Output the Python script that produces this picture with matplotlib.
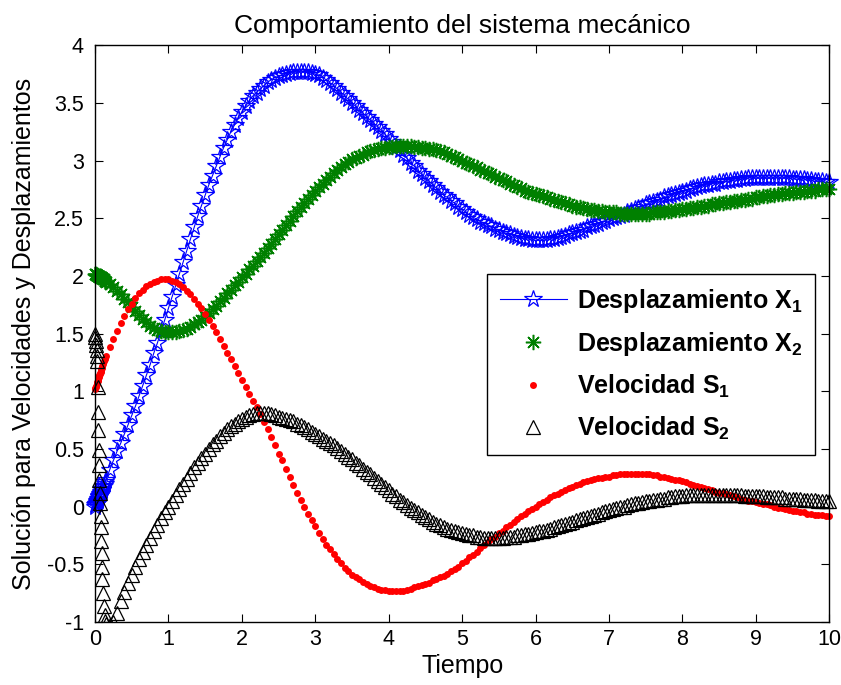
import numpy as np
import matplotlib
matplotlib.use("Agg")
import matplotlib.pyplot as plt
from matplotlib.patches import Rectangle
from matplotlib.ticker import FormatStrFormatter
from matplotlib import font_manager

plt.rcParams['font.family'] = ['Liberation Sans', 'DejaVu Sans']
plt.rcParams['mathtext.fontset'] = 'custom'
plt.rcParams['mathtext.bf'] = 'Liberation Sans:bold'
plt.rcParams['mathtext.rm'] = 'Liberation Sans'
plt.rcParams['mathtext.default'] = 'bf'
plt.rcParams['axes.unicode_minus'] = False

installed = {f.name for f in font_manager.fontManager.ttflist}
narrow = 'Liberation Sans Narrow' in installed
tick_family = ['Liberation Sans Narrow', 'Liberation Sans'] if narrow else ['Liberation Sans']
tick_size = 17 if narrow else 15.5

# ---- solution sampled on a regular grid t = 0, 0.05, ..., 10 (20 samples per unit) ----
t_grid = np.round(np.arange(0.0, 10.0001, 0.05), 2)

x1_grid = [
    0.00, 0.08, 0.15, 0.23, 0.32, 0.40, 0.48, 0.55, 0.63, 0.71, 0.79, 0.87, 0.96, 1.05, 1.14, 1.23, 1.33, 1.42, 1.52, 1.62,
    1.72, 1.82, 1.92, 2.02, 2.12, 2.22, 2.32, 2.42, 2.52, 2.61, 2.70, 2.79, 2.87, 2.95, 3.03, 3.11, 3.18, 3.25, 3.31, 3.37,
    3.42, 3.47, 3.52, 3.56, 3.59, 3.62, 3.65, 3.68, 3.70, 3.72, 3.73, 3.74, 3.75, 3.76, 3.77, 3.77, 3.77, 3.77, 3.77, 3.76,
    3.75, 3.74, 3.72, 3.70, 3.67, 3.65, 3.62, 3.59, 3.56, 3.53, 3.50, 3.47, 3.44, 3.41, 3.38, 3.35, 3.32, 3.29, 3.26, 3.23,
    3.19, 3.16, 3.12, 3.09, 3.05, 3.02, 2.98, 2.95, 2.91, 2.88, 2.85, 2.82, 2.79, 2.76, 2.73, 2.70, 2.68, 2.65, 2.63, 2.60,
    2.58, 2.55, 2.53, 2.51, 2.49, 2.47, 2.46, 2.44, 2.43, 2.41, 2.40, 2.38, 2.37, 2.36, 2.35, 2.34, 2.33, 2.32, 2.32, 2.31,
    2.31, 2.31, 2.31, 2.31, 2.32, 2.32, 2.33, 2.34, 2.35, 2.36, 2.37, 2.38, 2.39, 2.40, 2.42, 2.43, 2.44, 2.45, 2.47, 2.48,
    2.49, 2.50, 2.51, 2.52, 2.53, 2.55, 2.56, 2.58, 2.59, 2.60, 2.62, 2.63, 2.64, 2.65, 2.66, 2.68, 2.69, 2.70, 2.71, 2.72,
    2.73, 2.74, 2.75, 2.76, 2.77, 2.78, 2.79, 2.79, 2.80, 2.80, 2.81, 2.81, 2.82, 2.82, 2.83, 2.83, 2.84, 2.84, 2.85, 2.85,
    2.85, 2.85, 2.85, 2.85, 2.85, 2.85, 2.85, 2.85, 2.85, 2.85, 2.84, 2.84, 2.84, 2.84, 2.83, 2.83, 2.82, 2.82, 2.82, 2.81,
    2.81,
]

x2_grid = [
    2.02, 2.00, 1.98, 1.95, 1.93, 1.90, 1.87, 1.84, 1.80, 1.77, 1.73, 1.70, 1.66, 1.63, 1.60, 1.57, 1.55, 1.53, 1.52, 1.51,
    1.51, 1.51, 1.51, 1.52, 1.53, 1.54, 1.56, 1.58, 1.60, 1.62, 1.65, 1.68, 1.71, 1.74, 1.78, 1.81, 1.85, 1.88, 1.92, 1.95,
    1.99, 2.02, 2.06, 2.09, 2.13, 2.16, 2.20, 2.24, 2.28, 2.32, 2.36, 2.40, 2.44, 2.48, 2.52, 2.56, 2.60, 2.63, 2.67, 2.70,
    2.74, 2.77, 2.80, 2.83, 2.86, 2.89, 2.92, 2.94, 2.97, 2.99, 3.01, 3.02, 3.04, 3.05, 3.07, 3.08, 3.09, 3.10, 3.11, 3.11,
    3.12, 3.12, 3.13, 3.13, 3.13, 3.13, 3.13, 3.12, 3.12, 3.11, 3.11, 3.10, 3.10, 3.09, 3.08, 3.07, 3.06, 3.04, 3.03, 3.01,
    3.00, 2.98, 2.97, 2.95, 2.94, 2.92, 2.91, 2.89, 2.88, 2.86, 2.85, 2.83, 2.82, 2.80, 2.79, 2.77, 2.76, 2.74, 2.73, 2.72,
    2.71, 2.70, 2.69, 2.68, 2.67, 2.66, 2.65, 2.64, 2.63, 2.62, 2.61, 2.60, 2.60, 2.59, 2.58, 2.57, 2.57, 2.56, 2.56, 2.55,
    2.55, 2.55, 2.55, 2.54, 2.54, 2.54, 2.54, 2.54, 2.54, 2.54, 2.54, 2.54, 2.55, 2.55, 2.55, 2.55, 2.56, 2.56, 2.57, 2.57,
    2.58, 2.58, 2.59, 2.59, 2.60, 2.60, 2.61, 2.61, 2.62, 2.62, 2.63, 2.63, 2.64, 2.64, 2.65, 2.65, 2.66, 2.66, 2.67, 2.67,
    2.68, 2.68, 2.69, 2.69, 2.70, 2.70, 2.71, 2.71, 2.72, 2.72, 2.72, 2.73, 2.73, 2.73, 2.74, 2.74, 2.74, 2.75, 2.75, 2.75,
    2.75,
]

s1_grid = [
    1.02, 1.12, 1.22, 1.31, 1.38, 1.45, 1.52, 1.59, 1.65, 1.71, 1.76, 1.81, 1.85, 1.88, 1.91, 1.93, 1.95, 1.96, 1.97, 1.97,
    1.97, 1.96, 1.95, 1.93, 1.90, 1.87, 1.84, 1.80, 1.76, 1.72, 1.67, 1.62, 1.57, 1.51, 1.45, 1.39, 1.33, 1.28, 1.22, 1.16,
    1.10, 1.04, 0.98, 0.92, 0.86, 0.80, 0.73, 0.67, 0.60, 0.53, 0.46, 0.40, 0.33, 0.26, 0.19, 0.12, 0.06, 0.00, -0.06, -0.12,
    -0.17, -0.23, -0.28, -0.33, -0.37, -0.41, -0.45, -0.49, -0.53, -0.56, -0.59, -0.61, -0.63, -0.65, -0.67, -0.69, -0.70, -0.71, -0.72, -0.72,
    -0.73, -0.73, -0.73, -0.73, -0.73, -0.72, -0.71, -0.70, -0.69, -0.68, -0.67, -0.66, -0.64, -0.63, -0.61, -0.60, -0.58, -0.56, -0.54, -0.52,
    -0.49, -0.47, -0.44, -0.42, -0.39, -0.36, -0.33, -0.31, -0.28, -0.26, -0.23, -0.21, -0.18, -0.16, -0.13, -0.11, -0.08, -0.06, -0.04, -0.02,
    0.00, 0.02, 0.04, 0.06, 0.08, 0.10, 0.11, 0.13, 0.14, 0.16, 0.17, 0.19, 0.20, 0.21, 0.22, 0.23, 0.24, 0.25, 0.25, 0.26,
    0.26, 0.27, 0.27, 0.28, 0.28, 0.28, 0.28, 0.28, 0.28, 0.28, 0.28, 0.28, 0.27, 0.27, 0.26, 0.26, 0.25, 0.24, 0.23, 0.23,
    0.22, 0.21, 0.20, 0.19, 0.18, 0.17, 0.16, 0.15, 0.14, 0.13, 0.12, 0.12, 0.11, 0.10, 0.09, 0.08, 0.07, 0.06, 0.05, 0.05,
    0.04, 0.03, 0.02, 0.02, 0.01, 0.00, -0.01, -0.01, -0.02, -0.03, -0.04, -0.04, -0.05, -0.05, -0.06, -0.06, -0.07, -0.07, -0.07, -0.08,
    -0.08,
]

s2_grid = [
    1.50, 0.49, -0.63, -1.02, -1.03, -1.00, -0.92, -0.82, -0.74, -0.66, -0.59, -0.52, -0.45, -0.39, -0.33, -0.27, -0.21, -0.16, -0.10, -0.05,
    0.00, 0.05, 0.10, 0.15, 0.20, 0.24, 0.29, 0.34, 0.38, 0.42, 0.46, 0.50, 0.54, 0.57, 0.61, 0.64, 0.67, 0.70, 0.72, 0.74,
    0.76, 0.78, 0.79, 0.80, 0.81, 0.81, 0.81, 0.81, 0.80, 0.79, 0.78, 0.77, 0.76, 0.75, 0.74, 0.72, 0.71, 0.69, 0.67, 0.65,
    0.63, 0.61, 0.59, 0.57, 0.55, 0.53, 0.51, 0.48, 0.46, 0.43, 0.41, 0.38, 0.36, 0.33, 0.30, 0.28, 0.25, 0.22, 0.20, 0.17,
    0.14, 0.11, 0.09, 0.06, 0.04, 0.01, -0.01, -0.03, -0.05, -0.07, -0.09, -0.11, -0.13, -0.15, -0.16, -0.18, -0.19, -0.20, -0.21, -0.22,
    -0.23, -0.24, -0.25, -0.25, -0.26, -0.26, -0.27, -0.27, -0.27, -0.27, -0.27, -0.27, -0.26, -0.26, -0.26, -0.25, -0.25, -0.24, -0.24, -0.23,
    -0.22, -0.21, -0.21, -0.20, -0.19, -0.18, -0.17, -0.16, -0.15, -0.14, -0.13, -0.12, -0.11, -0.10, -0.09, -0.08, -0.07, -0.06, -0.05, -0.04,
    -0.03, -0.02, -0.01, 0.00, 0.00, 0.01, 0.02, 0.03, 0.03, 0.04, 0.05, 0.05, 0.06, 0.06, 0.07, 0.07, 0.08, 0.08, 0.09, 0.09,
    0.09, 0.10, 0.10, 0.10, 0.10, 0.10, 0.10, 0.10, 0.10, 0.10, 0.10, 0.10, 0.10, 0.10, 0.10, 0.10, 0.10, 0.09, 0.09, 0.09,
    0.09, 0.09, 0.09, 0.08, 0.08, 0.08, 0.08, 0.08, 0.07, 0.07, 0.07, 0.07, 0.07, 0.06, 0.06, 0.06, 0.06, 0.05, 0.05, 0.05,
    0.05,
]

# ---- extra samples of the fast initial transient (0 < t < 0.15) ----
t_start = [0.005, 0.01, 0.015, 0.02, 0.025, 0.03, 0.035, 0.04, 0.045,
           0.055, 0.06, 0.065, 0.07, 0.075, 0.08, 0.085, 0.09, 0.095,
           0.11, 0.12, 0.13, 0.14]
x1_start = [0.01, 0.02, 0.02, 0.03, 0.04, 0.05, 0.05, 0.06, 0.07,
            0.08, 0.09, 0.10, 0.11, 0.11, 0.12, 0.13, 0.14, 0.14,
            0.17, 0.18, 0.20, 0.21]
x2_start = [2.02, 2.02, 2.01, 2.01, 2.01, 2.01, 2.00, 2.00, 2.00,
            2.00, 1.99, 1.99, 1.99, 1.99, 1.99, 1.98, 1.98, 1.98,
            1.97, 1.97, 1.96, 1.96]
s1_start = [1.03, 1.04, 1.05, 1.06, 1.07, 1.08, 1.09, 1.10, 1.11,
            1.13, 1.14, 1.15, 1.16, 1.17, 1.18, 1.19, 1.20, 1.21,
            1.24, 1.26, 1.28, 1.29]
s2_start = [1.47, 1.44, 1.40, 1.36, 1.31, 1.26, 1.04, 0.82, 0.66,
            0.36, 0.23, 0.12, 0.03, -0.08, -0.18, -0.30, -0.40, -0.52,
            -0.75, -0.86, -0.94, -0.99]

labels = ['Desplazamiento X$_1$', 'Desplazamiento X$_2$',
          'Velocidad S$_1$', 'Velocidad S$_2$']

# merge both sample sets in time order
t_all = np.concatenate([t_grid, t_start])
order = np.argsort(t_all, kind='stable')
t = t_all[order]
x1 = np.concatenate([x1_grid, x1_start])[order]
x2 = np.concatenate([x2_grid, x2_start])[order]
s1 = np.concatenate([s1_grid, s1_start])[order]
s2 = np.concatenate([s2_grid, s2_start])[order]

fig = plt.figure(figsize=(8.41, 6.85), dpi=100)
ax = fig.add_axes([0.113, 0.092, 0.873, 0.842])

lines = []
lines += ax.plot(t, x1, '-', color='#0000ff', lw=0.8, marker='*', ms=13,
                 mfc='none', mec='#0000ff', mew=0.9, label=labels[0])
lines += ax.plot(t, x2, ls='none', marker=(8, 2, 0), ms=11,
                 color='#008000', mew=1.1, label=labels[1])
lines += ax.plot(t, s1, ls='none', marker='o', ms=5,
                 mfc='#ff0000', mec='none', label=labels[2])
lines += ax.plot(t, s2, ls='none', marker='^', ms=10.5,
                 mfc='none', mec='black', mew=0.9, label=labels[3])

# markers may spill past the left/right frame but not below it
clip = Rectangle((-0.03, 0.0), 1.06, 1.1, transform=ax.transAxes)
for ln in lines:
    ln.set_clip_path(clip)

ax.set_xlim(0, 10)
ax.set_ylim(-1, 4)
ax.set_xticks(np.arange(0, 11, 1))
ax.set_yticks(np.arange(-1, 4.01, 0.5))
ax.yaxis.set_major_formatter(FormatStrFormatter('%g'))
ax.tick_params(direction='in', length=6, width=0.8, top=True, right=True)
ax.tick_params(axis='x', pad=5)
ax.tick_params(axis='y', pad=8)
for lbl in ax.get_xticklabels() + ax.get_yticklabels():
    lbl.set_fontfamily(tick_family)
    lbl.set_fontsize(tick_size)
for sp in ax.spines.values():
    sp.set_linewidth(1.0)

ax.set_title('Comportamiento del sistema mecánico', fontsize=19, pad=9)
ax.set_xlabel('Tiempo', fontsize=18, labelpad=3)
ax.set_ylabel('Solución para Velocidades y Desplazamientos', fontsize=18, labelpad=8)

leg = ax.legend(loc='upper left', bbox_to_anchor=(0.534, 0.603), borderaxespad=0,
                prop={'weight': 'bold', 'size': 18}, handlelength=2.7,
                handletextpad=0.4, labelspacing=0.6, borderpad=0.5,
                fancybox=False, edgecolor='black', framealpha=1, numpoints=1)
leg.get_frame().set_linewidth(1.0)

fig.savefig('out.png', dpi=100)
